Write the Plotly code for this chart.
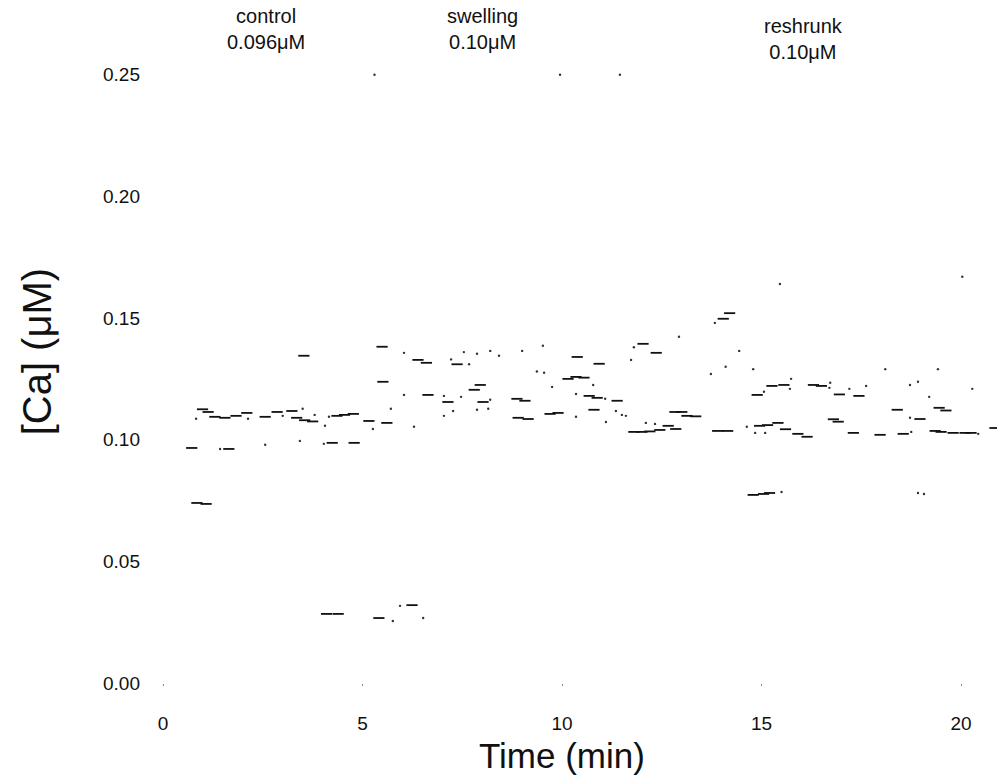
import plotly.graph_objects as go

# ---- data (time in min, [Ca] in µM) ----
dash_t = [0.99, 1.13, 1.30, 1.55, 1.83, 2.10, 2.56, 2.86, 3.23, 3.35, 3.55, 3.75, 3.53,
          0.72, 1.65, 4.24, 4.79, 0.85, 1.08, 4.10, 4.39, 5.41, 6.24,
          4.36, 4.55, 4.77, 5.16, 5.61, 5.49, 6.39, 6.60, 7.37,
          6.64, 7.14, 7.80, 7.95, 8.02, 8.90, 9.15, 9.70, 9.90, 8.87, 9.07,
          10.15, 10.35, 10.55, 10.68, 10.88, 11.38, 10.38, 10.93, 12.03, 12.36, 10.80, 5.51,
          11.80, 12.00, 12.20, 12.45, 12.66, 12.83, 13.00, 13.13, 13.35, 12.85,
          13.90, 14.15, 14.95, 15.15, 15.41, 15.60, 15.91, 16.14, 16.80, 16.92,
          14.04, 14.20, 16.30, 16.50, 16.95, 14.89, 15.26, 15.56,
          14.79, 15.05, 15.20, 17.30, 17.97, 18.55, 19.35, 19.50, 19.80, 20.10,
          20.25, 20.85, 19.45, 19.62, 18.40, 18.97, 17.44]
dash_c = [0.1125, 0.1114, 0.1094, 0.1090, 0.1098, 0.1110, 0.1094, 0.1114, 0.1118, 0.1090, 0.1080, 0.1075, 0.1345,
          0.0966, 0.0962, 0.0987, 0.0987, 0.0740, 0.0736, 0.0284, 0.0284, 0.0267, 0.0320,
          0.1098, 0.1102, 0.1106, 0.1077, 0.1069, 0.1382, 0.1328, 0.1316, 0.1310,
          0.1184, 0.1155, 0.1205, 0.1225, 0.1155, 0.1090, 0.1085, 0.1106, 0.1110, 0.1168, 0.1160,
          0.1250, 0.1258, 0.1255, 0.1180, 0.1172, 0.1160, 0.1340, 0.1312, 0.1394, 0.1357, 0.1123, 0.1238,
          0.1032, 0.1032, 0.1034, 0.1040, 0.1057, 0.1114, 0.1114, 0.1098, 0.1096, 0.1044,
          0.1036, 0.1036, 0.1057, 0.1060, 0.1069, 0.1043, 0.1024, 0.1012, 0.1084, 0.1074,
          0.1497, 0.1520, 0.1225, 0.1221, 0.1186, 0.1184, 0.1221, 0.1225,
          0.0773, 0.0777, 0.0781, 0.1028, 0.1020, 0.1024, 0.1036, 0.1032, 0.1028, 0.1028,
          0.1028, 0.1048, 0.1131, 0.1120, 0.1123, 0.1085, 0.1180]

speck_t = [0.83, 1.43, 2.56, 3.43, 4.03, 4.06, 4.16, 2.13, 3.00, 3.50, 3.80, 5.26, 5.71,
           6.04, 6.04, 6.29, 7.04, 7.04, 7.22, 7.27, 7.47, 7.54, 7.67, 7.87, 7.87, 8.15,
           8.20, 8.20, 8.42, 9.00, 9.52, 9.37, 9.55, 9.75, 10.35, 10.35, 10.78, 11.08,
           11.10, 11.35, 11.50, 11.60, 11.73, 11.80, 12.10, 12.33, 12.93, 13.73, 13.83,
           14.10, 14.44, 14.79, 14.63, 14.84, 15.09, 15.06, 15.46, 15.71, 15.74, 16.70,
           16.72, 17.20, 17.62, 18.10, 18.72, 18.92, 19.42, 19.20, 20.28, 20.03, 18.72,
           18.75, 20.43, 18.92, 19.07, 15.50, 5.76, 5.94, 6.52, 5.30, 9.95, 11.45]
speck_c = [0.1086, 0.0962, 0.0979, 0.0995, 0.0983, 0.1057, 0.1094, 0.1086, 0.1098, 0.1127, 0.1102, 0.1044, 0.1127,
           0.1357, 0.1184, 0.1053, 0.1098, 0.1180, 0.1330, 0.1118, 0.1176, 0.1360, 0.1310, 0.1353, 0.1123, 0.1127,
           0.1365, 0.1164, 0.1345, 0.1365, 0.1386, 0.1280, 0.1275, 0.1217, 0.1188, 0.1094, 0.1225, 0.1168,
           0.1073, 0.1118, 0.1102, 0.1098, 0.1328, 0.1380, 0.1069, 0.1065, 0.1423, 0.1270, 0.1480,
           0.1300, 0.1365, 0.1290, 0.1053, 0.1028, 0.1028, 0.1197, 0.1640, 0.1209, 0.1250, 0.1213,
           0.1234, 0.1209, 0.1221, 0.1290, 0.1225, 0.1238, 0.1290, 0.1176, 0.1209, 0.1670, 0.1090,
           0.1032, 0.1024, 0.0781, 0.0777, 0.0785, 0.0255, 0.0317, 0.0267, 0.2500, 0.2500, 0.2500]

phase_x = [2.58, 8.0, 16.05]
phase_labels = ["control<br>0.096μM", "swelling<br>0.10μM", "reshrunk<br>0.10μM"]
phase_y = [1.058, 1.058, 1.042]

x_ticks = [0, 5, 10, 15, 20]
y_ticks = [0.00, 0.05, 0.10, 0.15, 0.20, 0.25]

FONT = "Arial, 'Liberation Sans', sans-serif"
INK = "#111111"

fig = go.Figure()
fig.add_trace(go.Scatter(
    x=dash_t, y=dash_c, mode="markers",
    marker=dict(symbol="line-ew", size=8, line=dict(width=1.8, color=INK)),
    hoverinfo="x+y", showlegend=False))
fig.add_trace(go.Scatter(
    x=speck_t, y=speck_c, mode="markers",
    marker=dict(symbol="circle", size=2.4, color="#333333"),
    hoverinfo="x+y", showlegend=False))

for x, t, y in zip(phase_x, phase_labels, phase_y):
    fig.add_annotation(x=x, y=y, xref="x", yref="paper", text=t, showarrow=False,
                       font=dict(family=FONT, size=20, color=INK),
                       xanchor="center", yanchor="middle", align="center")

# axis titles placed as annotations for exact positioning
fig.add_annotation(x=10.0, y=-0.118, xref="x", yref="paper", text="Time (min)",
                   showarrow=False, font=dict(family=FONT, size=35, color=INK),
                   xanchor="center", yanchor="middle")
fig.add_annotation(x=0, y=0.535, xref="paper", yref="paper", text="[Ca] (μM)",
                   showarrow=False, textangle=-90, xshift=-126,
                   font=dict(family=FONT, size=40, color=INK),
                   xanchor="center", yanchor="middle")

fig.update_layout(
    width=998, height=784,
    margin=dict(l=163, r=1, t=65, b=101),
    paper_bgcolor="white", plot_bgcolor="white",
    font=dict(family=FONT, color=INK),
    showlegend=False,
)
fig.update_xaxes(
    range=[0, 20.9], tickvals=x_ticks, ticktext=[str(v) for v in x_ticks],
    showgrid=False, zeroline=False, showline=False,
    ticks="outside", ticklen=2, tickcolor="#888888", tickwidth=1,
    tickfont=dict(family=FONT, size=19, color=INK),
    ticklabelstandoff=21,
)
fig.update_yaxes(
    range=[0, 0.254], tickvals=y_ticks, ticktext=[f"{v:.2f}" for v in y_ticks],
    showgrid=False, zeroline=False, showline=False,
    ticks="", tickfont=dict(family=FONT, size=19, color=INK),
    ticklabelstandoff=22,
)

fig.write_html("out.html")
